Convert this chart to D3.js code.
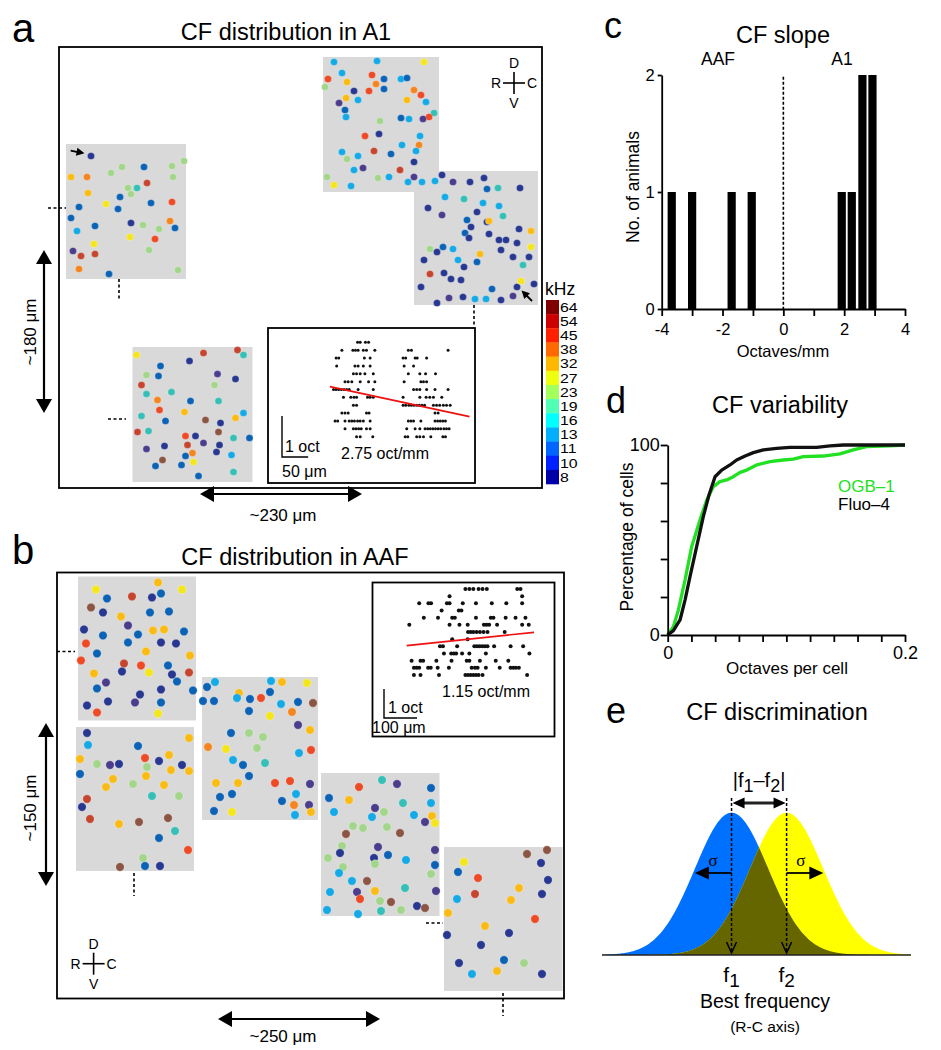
<!DOCTYPE html>
<html><head><meta charset="utf-8">
<script src="https://cdn.jsdelivr.net/npm/d3@7"></script>
<style>
body{margin:0;background:#fff}
svg{display:block}
text{font-family:"Liberation Sans",Arial,Helvetica,sans-serif;fill:#000}
</style></head><body>
<svg id="fig" width="941" height="1050"></svg>
<script>
// ---------------- DATA ----------------
const cfLevels = [8,10,11,13,16,19,23,27,32,38,45,54,64];
const barColors = ["#0000a8","#0022ff","#0066ff","#00b0ff","#00ffff","#50ffb4","#a2ff5c","#eeff10","#ffb800","#ff6a00","#ff2000","#cc0000","#800000"];
const dotPalette = {8:"#4b3c8c",10:"#283891",11:"#0c63b6",13:"#15aae6",16:"#15aae6",19:"#36bfb6",23:"#a3d68b",27:"#f3e51e",32:"#fbbb15",38:"#f5851f",45:"#ee4a25",54:"#c5452f",64:"#8c5443"};

// cells: [x, y, CF kHz] in field coordinates
const a1Field1 = [[25,12,10],[118,17,23],[106,22,23],[78,23,11],[56,23,23],[45,29,23],[5,33,32],[21,33,38],[107,33,23],[81,39,54],[62,44,23],[71,44,19],[65,50,23],[22,49,32],[54,53,11],[40,60,27],[85,59,11],[106,58,45],[13,63,11],[52,65,11],[5,74,11],[29,82,11],[65,79,10],[77,81,23],[104,77,38],[93,85,23],[109,84,11],[11,87,13],[64,93,27],[89,95,45],[28,100,27],[7,107,8],[15,112,54],[29,110,54],[83,106,23],[13,125,38],[43,130,11],[112,126,23]];
const a1Field2 = [[11,5,13],[54,4,13],[101,5,27],[19,16,13],[5,22,45],[24,25,32],[49,18,45],[53,27,38],[61,22,11],[61,32,11],[78,22,13],[84,21,11],[46,34,45],[31,34,10],[2,30,23],[91,33,38],[98,38,45],[23,41,32],[16,46,8],[35,43,13],[22,53,11],[23,60,13],[84,43,32],[103,45,13],[111,56,19],[106,60,45],[100,62,8],[86,62,13],[78,61,11],[57,64,23],[42,79,45],[56,77,10],[97,79,13],[96,88,38],[79,88,13],[93,94,13],[68,97,11],[19,95,13],[24,102,23],[35,99,13],[51,94,54],[91,105,10],[31,113,13],[40,111,8],[77,113,54],[4,120,23],[11,128,27],[28,129,13],[55,121,23],[66,120,13],[85,125,13],[91,120,8],[99,125,13]];
const a1Field3 = [[21,10,13],[28,4,10],[39,11,8],[56,11,10],[70,7,10],[73,18,11],[84,17,19],[106,17,10],[31,26,13],[50,28,19],[69,32,13],[85,35,13],[14,37,10],[28,44,8],[63,41,10],[89,45,19],[53,49,11],[57,56,10],[73,51,10],[75,50,32],[51,62,11],[55,67,10],[75,63,10],[85,69,10],[92,69,10],[105,58,10],[117,60,32],[103,72,10],[117,76,27],[87,79,10],[99,86,10],[115,86,10],[109,94,19],[66,83,32],[63,91,11],[44,89,13],[50,96,10],[16,78,23],[23,81,10],[29,76,11],[39,78,13],[10,89,10],[16,103,54],[30,102,10],[37,108,10],[47,109,10],[7,116,10],[78,118,11],[103,116,10],[107,110,27],[120,113,10],[23,132,10],[35,127,8],[49,126,10],[61,128,13],[72,128,13],[87,129,10],[99,125,8]];
const a1Field4 = [[4,8,27],[71,6,54],[105,3,54],[111,8,19],[28,19,11],[57,14,10],[14,28,23],[26,29,11],[85,27,8],[103,32,10],[9,38,54],[82,38,23],[14,47,19],[39,45,19],[25,53,38],[58,54,11],[86,54,19],[27,63,45],[52,65,32],[111,66,13],[9,69,19],[33,74,11],[73,73,64],[88,76,10],[103,71,32],[5,85,54],[16,84,19],[53,89,45],[63,89,10],[86,85,64],[101,91,19],[117,91,11],[55,98,54],[71,96,8],[87,98,10],[14,102,8],[32,99,10],[53,109,11],[60,106,38],[84,105,10],[99,108,13],[30,113,64],[23,119,11],[49,118,11],[61,115,27],[66,129,11],[101,125,19]];
const aafField1 = [[18,13,27],[80,6,32],[104,13,27],[29,22,11],[54,20,54],[74,21,10],[83,17,11],[13,31,64],[25,36,10],[43,40,32],[72,36,11],[91,35,11],[6,53,10],[25,59,11],[50,49,8],[60,58,11],[75,54,32],[86,53,32],[106,55,11],[8,67,45],[50,66,11],[83,66,10],[98,67,10],[19,77,11],[68,75,32],[112,79,32],[3,84,45],[46,87,54],[63,89,45],[90,89,11],[111,96,54],[16,97,32],[44,95,10],[71,96,27],[94,98,10],[99,105,11],[28,106,8],[19,112,11],[62,118,10],[83,113,10],[115,114,11],[9,129,10],[19,136,45],[30,125,10],[57,126,8],[83,126,11],[80,137,27]];
const aafField2 = [[11,6,10],[12,18,13],[62,19,11],[113,11,32],[4,32,32],[21,37,23],[34,38,8],[43,37,10],[69,31,45],[83,34,10],[93,28,32],[106,38,10],[113,44,32],[4,47,11],[71,40,23],[37,52,32],[70,49,32],[95,43,32],[30,60,32],[57,57,23],[88,58,32],[76,69,19],[103,69,23],[11,72,54],[6,80,10],[14,92,54],[43,97,32],[63,95,64],[92,91,64],[99,104,19],[83,111,11],[112,123,45],[67,131,23],[44,140,64],[69,139,11],[84,139,10]];
const aafField3 = [[13,5,13],[5,10,11],[1,24,11],[12,24,11],[37,16,32],[35,21,13],[48,22,11],[59,21,45],[69,4,13],[80,5,32],[68,15,11],[79,27,13],[96,25,11],[105,6,27],[111,26,64],[47,34,11],[68,39,27],[90,35,38],[96,48,8],[108,53,32],[29,56,11],[47,56,23],[61,60,23],[6,70,38],[24,72,27],[55,71,23],[97,76,13],[109,73,45],[31,83,13],[41,88,11],[63,86,19],[47,99,11],[14,106,32],[36,106,32],[73,106,45],[88,104,45],[108,107,8],[18,120,11],[30,117,11],[94,117,13],[80,124,11],[92,128,38],[107,128,8],[12,134,11],[30,135,27],[93,138,13],[109,135,32]];
const aafField4 = [[61,7,19],[76,11,8],[38,14,45],[110,15,11],[8,25,11],[28,27,32],[82,30,19],[110,30,13],[13,39,13],[54,35,8],[63,39,23],[51,44,13],[93,42,13],[104,49,8],[111,43,32],[114,50,27],[32,53,23],[42,55,23],[66,54,23],[25,61,64],[79,60,64],[21,73,23],[19,80,10],[7,85,23],[57,74,8],[53,85,10],[67,82,11],[54,91,23],[85,87,13],[114,77,8],[114,92,11],[22,94,23],[18,100,13],[110,101,23],[31,108,13],[46,108,64],[9,119,13],[36,119,8],[54,118,32],[84,115,19],[115,118,8],[39,126,45],[59,128,23],[70,129,64],[6,137,13],[37,141,13],[60,138,19],[80,137,23],[96,133,10],[104,135,64]];
const aafField5 = [[20,15,27],[14,25,11],[34,31,45],[13,52,13],[31,47,54],[4,66,32],[83,7,64],[103,3,64],[97,16,10],[104,33,10],[75,41,32],[67,53,32],[98,47,10],[91,72,45],[3,88,10],[41,79,32],[65,86,10],[37,98,10],[15,116,10],[28,127,13],[60,113,11],[80,116,23],[53,124,32],[98,127,10]];

// inset scatter: per CF row (0 = top), positions along R-C axis (µm)
const a1InsetRows = [
 [47,52,62,68],
 [17,38,43,48,58,64,80,144,150,220],
 [6,11,60,71,134,139,157,161,179],
 [7,42,48,58,71,136,154],
 [39,45,52,61,77,144,166,177,196],
 [23,29,36,52,68,80,136,168,173,179],
 [1,6,11,16,21,26,31,48,77,154,160,166,179,195,220],
 [20,34,40,45,66,71,77,134,166,178,185,192,208],
 [39,45,134,139,145,150,155,160,165,170,175,192,198,204,211,217,224],
 [17,23,29,64,69,195,201],
 [4,9,23,31,36,41,47,52,58,71,144,149,154,168,195,200,205,210,215],
 [23,39,44,49,54,64,71,141,157,166,176,181,186,191,196,201,206,212,217,222],
 [45,52,76,138,143,160,166,173,187,210,215]
];
const a1Fit = [[-6,5.64],[261,9.45]];
const aafInsetRows = [
 [183,195,207,223,235,248,340,350],
 [135,355],
 [43,71,79,127,135,175,215,263,307,355],
 [111,163,171],
 [57,100,143,151,215,260,268,305,335,365],
 [13,135,165,190,239,247,255,279,355,375],
 [191,199,207,217,227,238,250,302],
 [143,190],
 [106,115,158,210,218,226,234,242,250,270,320,358],
 [118,140,148,155,173,195,245,377],
 [20,47,55,95,141,187,195,227,275,313],
 [27,35,43,70,78,99,133,202,212,220,245,287,320,328,336,345],
 [27,47,103,183,191,199,207,215,223,235,370]
];
const aafFit = [[5,7.9],[391,6.04]];

// panel c: CF slope histogram (octaves/mm, no. of animals)
const slopeBins = [-3.67,-3.0,-1.7,-1.04,1.92,2.25,2.6,2.93];
const slopeCounts = [1,1,1,1,1,1,2,2];

// panel d: cumulative distributions
const fluoX = [0,.0048,.0104,.0146,.0188,.0244,.030,.0348,.0399,.0455,.0525,.0581,.0652,.0722,.0806,.0918,.103,.1255,.1368,.148,.2];
const fluoY = [0,2.3,7.9,18.4,30.7,46.5,62.3,73.7,83.3,86.8,89.5,92.1,94.2,96.0,97.4,98.2,98.8,98.8,99.5,100,100];
const ogbX = [0,.0048,.009,.0146,.0202,.0272,.0329,.0385,.044,.0497,.0553,.061,.0666,.075,.0862,.0974,.1059,.1143,.1311,.1452,.1564,.1676,.1873,.2];
const ogbY = [0,4.4,13.2,28.9,46.5,60.5,71.1,78.1,80.7,81.6,83.3,85.6,86.8,89.5,91.2,92.1,92.6,93.9,94.2,95.3,97.4,99.1,99.5,100];

// panel e: schematic tuning parameters
const f1 = 0, f2 = 1.5, sigma = 1;

// ---------------- DRAWING ----------------
const svg = d3.select("#fig");
const FONT = '"Liberation Sans",Arial,Helvetica,sans-serif';
const SW = 1.8;

function txt(x, y, s, size, anchor="start", g=svg){
  return g.append("text").attr("x",x).attr("y",y).attr("font-size",size).attr("text-anchor",anchor).text(s);
}
function arrowHead(g, tipX, tipY, dirX, dirY, len, wid){
  const bx = tipX - dirX*len, by = tipY - dirY*len;
  const px = -dirY*wid/2, py = dirX*wid/2;
  g.append("path").attr("d",`M${tipX},${tipY}L${bx+px},${by+py}L${bx-px},${by-py}Z`).attr("fill","#000");
}
function dblArrow(x1,y1,x2,y2,len=14,wid=16,sw=2.2){
  const L = Math.hypot(x2-x1,y2-y1), dx=(x2-x1)/L, dy=(y2-y1)/L;
  svg.append("line").attr("x1",x1+dx*len*0.8).attr("y1",y1+dy*len*0.8).attr("x2",x2-dx*len*0.8).attr("y2",y2-dy*len*0.8).attr("stroke","#000").attr("stroke-width",sw);
  arrowHead(svg,x1,y1,-dx,-dy,len,wid);
  arrowHead(svg,x2,y2,dx,dy,len,wid);
}
function dash(x1,y1,x2,y2){
  svg.append("line").attr("x1",x1).attr("y1",y1).attr("x2",x2).attr("y2",y2).attr("stroke","#000").attr("stroke-width",1.6).attr("stroke-dasharray","3,2.5");
}
function compass(cx,cy){
  const g = svg.append("g");
  g.append("line").attr("x1",cx-11).attr("x2",cx+11).attr("y1",cy).attr("y2",cy).attr("stroke","#000").attr("stroke-width",1.6);
  g.append("line").attr("x1",cx).attr("x2",cx).attr("y1",cy-11).attr("y2",cy+11).attr("stroke","#000").attr("stroke-width",1.6);
  txt(cx,cy-15,"D",14,"middle",g);
  txt(cx,cy+25,"V",14,"middle",g);
  txt(cx-13,cy+5,"R",14,"end",g);
  txt(cx+13,cy+5,"C",14,"start",g);
}
function drawFields(fields, r){
  fields.forEach(f=>{
    svg.append("rect").attr("x",f.x).attr("y",f.y).attr("width",f.w).attr("height",f.h).attr("fill","#d9d9d9");
  });
  fields.forEach(f=>{
    const sx = d3.scaleLinear().domain([0,f.w]).range([f.x,f.x+f.w]);
    const sy = d3.scaleLinear().domain([0,f.h]).range([f.y,f.y+f.h]);
    svg.append("g").selectAll("circle").data(f.cells).join("circle")
      .attr("cx",d=>sx(d[0])).attr("cy",d=>sy(d[1])).attr("r",r)
      .attr("fill",d=>dotPalette[d[2]]).attr("stroke","#fff").attr("stroke-opacity",0.45).attr("stroke-width",0.6);
    f.sx = sx; f.sy = sy;
  });
}
function drawInset(box, rows, fit, xDom, xRange, yRange, r){
  svg.append("rect").attr("x",box.x).attr("y",box.y).attr("width",box.w).attr("height",box.h).attr("fill","#fff").attr("stroke","#000").attr("stroke-width",SW);
  const x = d3.scaleLinear().domain(xDom).range(xRange);
  const y = d3.scaleLinear().domain([0,rows.length-1]).range(yRange);
  const pts = rows.flatMap((row,i)=>row.map(v=>[v,i]));
  svg.append("g").selectAll("circle").data(pts).join("circle").attr("cx",d=>x(d[0])).attr("cy",d=>y(d[1])).attr("r",r).attr("fill","#111");
  svg.append("path").datum(fit).attr("d",d3.line().x(d=>x(d[0])).y(d=>y(d[1]))).attr("stroke","#ee1111").attr("stroke-width",1.7).attr("fill","none");
  return x;
}

// ===== Panel a =====
txt(12,42,"a",40);
txt(286,40,"CF distribution in A1",23.5,"middle");
svg.append("rect").attr("x",59).attr("y",47).attr("width",483).attr("height",441).attr("fill","none").attr("stroke","#000").attr("stroke-width",SW);
const aFields = [
  {x:66,y:144,w:120,h:135,cells:a1Field1},
  {x:323,y:57,w:116,h:135,cells:a1Field2},
  {x:414,y:171,w:124,h:134,cells:a1Field3},
  {x:132.5,y:347,w:120,h:135,cells:a1Field4}
];
drawFields(aFields,3.6);
(function(){
  const f=aFields[0];
  svg.append("line").attr("x1",f.sx(4.7)).attr("y1",f.sy(6.7)).attr("x2",f.sx(13)).attr("y2",f.sy(8.3)).attr("stroke","#000").attr("stroke-width",1.8);
  arrowHead(svg,f.sx(18.5),f.sy(9.3),0.98,0.19,8,8);
  const g=aFields[2];
  svg.append("line").attr("x1",g.sx(118)).attr("y1",g.sy(130)).attr("x2",g.sx(112)).attr("y2",g.sy(124)).attr("stroke","#000").attr("stroke-width",1.8);
  arrowHead(svg,g.sx(107.5),g.sy(119.5),-0.707,-0.707,8,8);
})();
dash(48,208,66,208); dash(119,279,119,300); dash(474,305,474,326); dash(108,419,126,419);
compass(514,83);
dblArrow(44,250,44,413);
svg.append("text").attr("transform","translate(36,332) rotate(-90)").attr("font-size",17).attr("text-anchor","middle").text("~180 μm");
dblArrow(200,494,362,494);
txt(283,521,"~230 μm",17,"middle");
const axA = drawInset({x:268,y:328,w:207,h:155}, a1InsetRows, a1Fit, [0,230], [333,453.3], [342.3,436.7], 1.5);
svg.append("path").attr("d",`M282,416V457H${282 + axA(50)-axA(0)}`).attr("stroke","#000").attr("stroke-width",1.4).attr("fill","none");
txt(285,452,"1 oct",16);
txt(282,477,"50 μm",16);
txt(385,459,"2.75 oct/mm",16,"middle");
(function(){
  const lv = cfLevels.slice().reverse();
  const y = d3.scaleBand().domain(lv).range([300,484]);
  svg.append("g").selectAll("rect").data(lv).join("rect").attr("x",546).attr("width",13).attr("y",d=>y(d)).attr("height",y.bandwidth()+0.3)
    .attr("fill",d=>barColors[cfLevels.indexOf(d)]);
  svg.append("g").selectAll("text").data(lv).join("text")
    .attr("transform",d=>`translate(560,${y(d)+y.bandwidth()/2+4.8}) scale(1.22,1)`)
    .attr("font-size",13).text(d=>d);
  txt(545,295,"kHz",17.5);
})();

// ===== Panel b =====
txt(12,564,"b",40);
txt(295,565,"CF distribution in AAF",23.5,"middle");
svg.append("rect").attr("x",57).attr("y",572.5).attr("width",507).attr("height",426).attr("fill","none").attr("stroke","#000").attr("stroke-width",SW);
const bFields = [
  {x:78,y:576.5,w:118,h:144,cells:aafField1},
  {x:76,y:727,w:118,h:144,cells:aafField2},
  {x:202,y:677,w:116,h:143,cells:aafField3},
  {x:321,y:773,w:118.5,h:143,cells:aafField4},
  {x:444,y:847,w:118.5,h:144,cells:aafField5}
];
drawFields(bFields,4.2);
dash(57,651.5,75,651.5); dash(134,873,134,896); dash(426,923,443,923); dash(503,993,503,1016);
compass(93.6,963.7);
dblArrow(46,723,46,886);
svg.append("text").attr("transform","translate(36,808) rotate(-90)").attr("font-size",17).attr("text-anchor","middle").text("~150 μm");
dblArrow(218,1019,380,1019);
txt(283,1042,"~250 μm",17,"middle");
const axB = drawInset({x:372.5,y:582.5,w:182,h:154}, aafInsetRows, aafFit, [0,400], [405,537], [589,675], 2);
svg.append("path").attr("d",`M384,689V718H${384 + axB(100)-axB(0)}`).attr("stroke","#000").attr("stroke-width",1.4).attr("fill","none");
txt(388,713,"1 oct",16);
txt(372,733,"100 μm",16);
txt(486,697,"1.15 oct/mm",16,"middle");

// ===== Panel c =====
txt(604,38,"c",36);
txt(783,43,"CF slope",23.5,"middle");
txt(718,65,"AAF",17.5,"middle");
txt(842,65,"A1",17.5,"middle");
(function(){
  const x = d3.scaleLinear().domain([-4,4]).range([661.7,905]);
  const y = d3.scaleLinear().domain([0,2]).range([309,75]);
  const bw = x(0.27)-x(0);
  svg.append("g").selectAll("rect").data(slopeBins.map((b,i)=>[b,slopeCounts[i]])).join("rect")
    .attr("x",d=>x(d[0])-bw/2).attr("width",bw).attr("y",d=>y(d[1])).attr("height",d=>y(0)-y(d[1])).attr("fill","#000");
  svg.append("line").attr("x1",x(0)).attr("x2",x(0)).attr("y1",y(1.985)).attr("y2",y(0)).attr("stroke","#000").attr("stroke-width",1.6).attr("stroke-dasharray","3,2");
  const gx = svg.append("g").attr("transform",`translate(0,${y(0)})`)
    .call(d3.axisBottom(x).tickValues(d3.range(-4,5)).tickFormat(d=>d%2===0?String(d):"").tickSize(7).tickPadding(7).tickSizeOuter(0));
  const gy = svg.append("g").attr("transform",`translate(${x(-4)},0)`)
    .call(d3.axisLeft(y).tickValues([0,1,2]).tickFormat(d=>String(d)).tickSize(4).tickPadding(3).tickSizeOuter(0));
  [gx,gy].forEach(g=>{g.selectAll("path,line").attr("stroke-width",SW);g.selectAll("text").attr("font-size",16.5).attr("font-family",FONT);});
  txt(783,357,"Octaves/mm",16.5,"middle");
  svg.append("text").attr("transform","translate(639,187) rotate(-90)").attr("font-size",17.5).attr("text-anchor","middle").text("No. of animals");
})();

// ===== Panel d =====
txt(606,413,"d",36);
txt(780,413,"CF variability",23.5,"middle");
(function(){
  const x = d3.scaleLinear().domain([0,0.2]).range([667.7,905]);
  const y = d3.scaleLinear().domain([0,100]).range([635,445]);
  const line = d3.line().x(d=>x(d[0])).y(d=>y(d[1]));
  svg.append("path").datum(ogbX.map((v,i)=>[v,ogbY[i]])).attr("d",line).attr("fill","none").attr("stroke","#22e022").attr("stroke-width",3.3).attr("stroke-linejoin","round");
  svg.append("path").datum(fluoX.map((v,i)=>[v,fluoY[i]])).attr("d",line).attr("fill","none").attr("stroke","#111").attr("stroke-width",3.3).attr("stroke-linejoin","round");
  const gx = svg.append("g").attr("transform",`translate(0,${y(0)})`)
    .call(d3.axisBottom(x).tickValues(d3.range(0,11).map(i=>i*0.02)).tickFormat((d,i)=>i===0?"0":(i===10?"0.2":"")).tickSize(7).tickPadding(4).tickSizeOuter(0));
  const gy = svg.append("g").attr("transform",`translate(${x(0)},0)`)
    .call(d3.axisLeft(y).tickValues([0,20,40,60,80,100]).tickFormat(d=>(d===0||d===100)?String(d):"").tickSize(7).tickPadding(1).tickSizeOuter(0));
  [gx,gy].forEach(g=>{g.selectAll("path,line").attr("stroke-width",SW);g.selectAll("text").attr("font-size",18).attr("font-family",FONT);});
  txt(838,492,"OGB–1",17).style("fill","#22e022");
  txt(838,510,"Fluo–4",17);
  txt(787,674,"Octaves per cell",17,"middle");
  svg.append("text").attr("transform","translate(633,537) rotate(-90)").attr("font-size",17.5).attr("text-anchor","middle").text("Percentage of cells");
})();

// ===== Panel e =====
txt(606,723,"e",36);
txt(777,720,"CF discrimination",23.5,"middle");
(function(){
  const x = d3.scaleLinear().domain([-3.53,4.89]).range([602,911]);
  const y = d3.scaleLinear().domain([0,1]).range([955,812.7]);
  const g = (v,m)=>Math.exp(-((v-m)**2)/(2*sigma*sigma));
  const xs = d3.range(-3.53,4.8901,0.02);
  const area = fn=>d3.area().x(v=>x(v)).y0(y(0)).y1(v=>y(fn(v)))(xs);
  svg.append("path").attr("d",area(v=>g(v,f1))).attr("fill","#0070ff");
  svg.append("path").attr("d",area(v=>g(v,f2))).attr("fill","#ffff00");
  svg.append("path").attr("d",area(v=>Math.min(g(v,f1),g(v,f2)))).attr("fill","#666600");
  svg.append("line").attr("x1",602).attr("x2",911).attr("y1",y(0)).attr("y2",y(0)).attr("stroke","#222").attr("stroke-width",1.6);
  [f1,f2].forEach(f=>{
    svg.append("line").attr("x1",x(f)).attr("x2",x(f)).attr("y1",798).attr("y2",y(0)-2).attr("stroke","#000").attr("stroke-width",1.5).attr("stroke-dasharray","3,2");
    svg.append("path").attr("d",`M${x(f)-5},${y(0)-13}L${x(f)},${y(0)-2}L${x(f)+5},${y(0)-13}`).attr("stroke","#000").attr("stroke-width",1.5).attr("fill","none");
  });
  const ay = 803;
  svg.append("line").attr("x1",x(f1)+9).attr("x2",x(f2)-9).attr("y1",ay).attr("y2",ay).attr("stroke","#222").attr("stroke-width",3.2);
  arrowHead(svg,x(f1)+1,ay,-1,0,12,11);
  arrowHead(svg,x(f2)-1,ay,1,0,12,11);
  const t = svg.append("text").attr("x",(x(f1)+x(f2))/2).attr("y",787).attr("font-size",20).attr("text-anchor","middle");
  t.append("tspan").text("|f");
  t.append("tspan").attr("dy",5).attr("font-size",18).text("1");
  t.append("tspan").attr("dy",-5).text("–f");
  t.append("tspan").attr("dy",5).attr("font-size",18).text("2");
  t.append("tspan").attr("dy",-5).text("|");
  svg.append("line").attr("x1",x(f1)).attr("x2",x(f1-sigma)+10).attr("y1",873).attr("y2",873).attr("stroke","#000").attr("stroke-width",1.8);
  arrowHead(svg,x(f1-sigma),873,-1,0,14,13);
  svg.append("line").attr("x1",x(f2)).attr("x2",x(f2+sigma)-10).attr("y1",873).attr("y2",873).attr("stroke","#000").attr("stroke-width",1.8);
  arrowHead(svg,x(f2+sigma),873,1,0,14,13);
  svg.append("text").attr("x",x(f1-sigma/2)).attr("y",866).attr("font-size",17).attr("text-anchor","middle").style("font-family","'Liberation Serif',serif").text("σ");
  svg.append("text").attr("x",x(f2+sigma/2)-4).attr("y",866).attr("font-size",17).attr("text-anchor","middle").style("font-family","'Liberation Serif',serif").text("σ");
  [[f1,"1"],[f2,"2"]].forEach(([f,s])=>{
    const tt = svg.append("text").attr("x",x(f)).attr("y",982).attr("font-size",21).attr("text-anchor","middle");
    tt.append("tspan").text("f");
    tt.append("tspan").attr("dy",5).attr("font-size",19).text(s);
  });
  txt(765,1008,"Best frequency",19.5,"middle");
  txt(765,1032,"(R-C axis)",15.5,"middle");
})();
</script></body></html>
